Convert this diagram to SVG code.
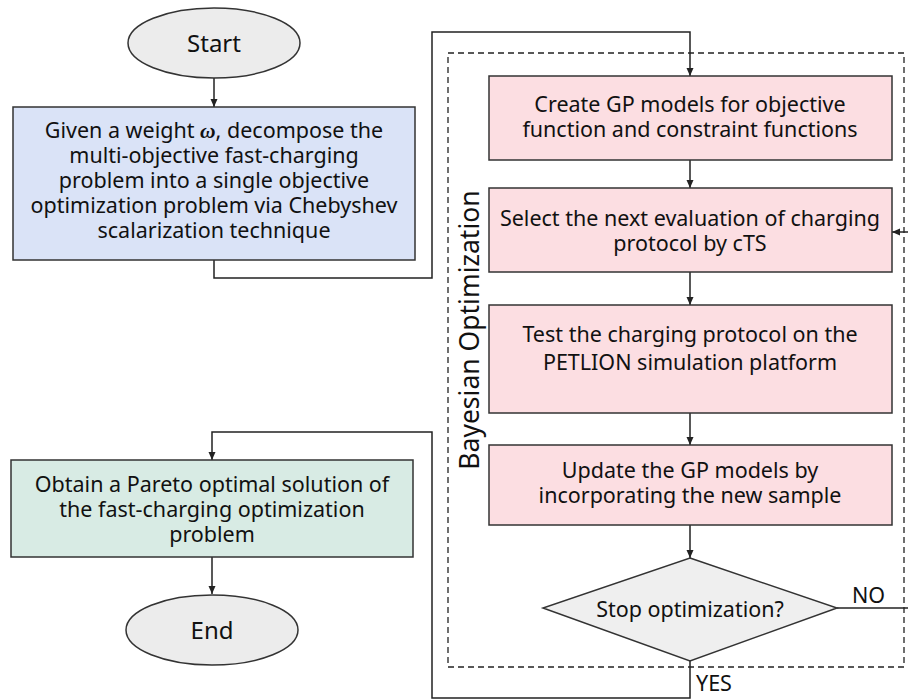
<svg xmlns="http://www.w3.org/2000/svg" width="908" height="699" viewBox="0 0 908 699">
<defs>
<marker id="arr" markerWidth="10" markerHeight="10" refX="9" refY="5" orient="auto" markerUnits="userSpaceOnUse">
<path d="M1,1.5 L9,5 L1,8.5 Z" fill="#222"/>
</marker>
<style>
.t{font-family:"Noto Sans","Open Sans","DejaVu Sans",sans-serif;font-size:21.5px;fill:#111;text-anchor:middle}
.nd{stroke:#333;stroke-width:1.5}
.pk{fill:#fcdee2}
.cn{fill:none;stroke:#222;stroke-width:1.5}
</style>
</defs>
<rect width="908" height="699" fill="#fff"/>
<rect id="bo-frame" x="448" y="53" width="456" height="614" fill="none" stroke="#222" stroke-width="1.3" stroke-dasharray="6,4"/>
<text x="479" y="330" transform="rotate(-90 479 330)" class="t" style="font-size:26.5px">Bayesian Optimization</text>
<g id="connectors">
<line class="cn" x1="214" y1="78" x2="214" y2="107" marker-end="url(#arr)"/>
<polyline class="cn" points="214,260 214,278 432,278 432,32 690,32 690,76" marker-end="url(#arr)"/>
<line class="cn" x1="690" y1="160" x2="690" y2="188" marker-end="url(#arr)"/>
<line class="cn" x1="690" y1="272" x2="690" y2="305" marker-end="url(#arr)"/>
<line class="cn" x1="690" y1="413" x2="690" y2="445" marker-end="url(#arr)"/>
<line class="cn" x1="690" y1="525" x2="690" y2="558" marker-end="url(#arr)"/>
<line class="cn" x1="837" y1="608" x2="908" y2="608"/>
<line class="cn" x1="908" y1="232" x2="892" y2="232" marker-end="url(#arr)"/>
<polyline class="cn" points="690,661 690,698 432,698 432,432 212,432 212,460" marker-end="url(#arr)"/>
<line class="cn" x1="212" y1="557" x2="212" y2="594" marker-end="url(#arr)"/>
<text x="852" y="603" class="t" style="text-anchor:start">NO</text>
<text x="696" y="691" class="t" style="text-anchor:start">YES</text>
</g>
<g id="start">
<ellipse class="nd" cx="214" cy="43" rx="86" ry="35" fill="#ececec"/>
<text x="214" y="52" class="t" style="font-size:24px">Start</text>
</g>
<g id="decompose">
<rect class="nd" x="13" y="107" width="402" height="153" fill="#dae3f7"/>
<text class="t"><tspan x="214" y="138">Given a weight <tspan font-style="italic" font-weight="bold" font-family="Liberation Serif, serif">ω</tspan>, decompose the</tspan><tspan x="214" y="163">multi-objective fast-charging</tspan><tspan x="214" y="188">problem into a single objective</tspan><tspan x="214" y="213">optimization problem via Chebyshev</tspan><tspan x="214" y="238">scalarization technique</tspan></text>
</g>
<g id="create-gp">
<rect class="nd pk" x="489" y="76" width="403" height="84"/>
<text class="t"><tspan x="690" y="112">Create GP models for objective</tspan><tspan x="690" y="137">function and constraint functions</tspan></text>
</g>
<g id="select">
<rect class="nd pk" x="489" y="188" width="403" height="84"/>
<text class="t"><tspan x="690" y="226">Select the next evaluation of charging</tspan><tspan x="690" y="251">protocol by cTS</tspan></text>
</g>
<g id="test">
<rect class="nd pk" x="489" y="305" width="403" height="108"/>
<text class="t"><tspan x="690" y="342">Test the charging protocol on the</tspan><tspan x="690" y="370">PETLION simulation platform</tspan></text>
</g>
<g id="update">
<rect class="nd pk" x="489" y="445" width="403" height="80"/>
<text class="t"><tspan x="690" y="478">Update the GP models by</tspan><tspan x="690" y="503">incorporating the new sample</tspan></text>
</g>
<g id="stop">
<polygon class="nd" points="690,558 837,608 690,661 543,608" fill="#efefef"/>
<text x="690" y="617" class="t">Stop optimization?</text>
</g>
<g id="pareto">
<rect class="nd" x="11" y="460" width="402" height="97" fill="#d8ebe4"/>
<text class="t"><tspan x="212" y="492">Obtain a Pareto optimal solution of</tspan><tspan x="212" y="517">the fast-charging optimization</tspan><tspan x="212" y="542">problem</tspan></text>
</g>
<g id="end">
<ellipse class="nd" cx="212" cy="630" rx="86" ry="35" fill="#ececec"/>
<text x="212" y="639" class="t" style="font-size:24px">End</text>
</g>
</svg>
